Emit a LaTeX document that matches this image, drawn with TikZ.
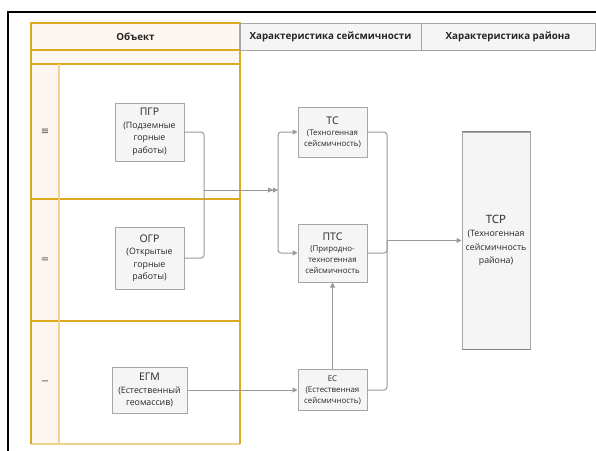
\documentclass[tikz,border=0pt]{standalone}
\usepackage{fontspec}
\setmainfont{Open Sans}
\newfontfamily\symf{DejaVu Sans}
\usetikzlibrary{arrows.meta}
\definecolor{ybord}{HTML}{DCAA1E}
\definecolor{ylight}{HTML}{EFD28C}
\definecolor{yfill}{HTML}{FDF6F0}
\definecolor{gfill}{HTML}{F5F5F5}
\definecolor{gbord}{HTML}{A6A6A6}
\definecolor{conn}{HTML}{9A9A9A}
\definecolor{txt}{HTML}{262626}
\newcommand{\tta}{\fontsize{10.5}{13.5}\selectfont}
\newcommand{\ttb}{\fontsize{8.8}{12.5}\selectfont}
\newcommand{\ttc}{\fontsize{7.9}{11}\selectfont}
\newcommand{\ttd}{\fontsize{8.8}{13.5}\selectfont}
\begin{document}
\begin{tikzpicture}[x=1pt,y=-1pt,
  box/.style={draw=gbord, fill=gfill, line width=1pt, inner sep=1pt, align=center, text=txt},
  hdr/.style={draw=gbord, fill=gfill, line width=1pt, text=txt, font=\bfseries\fontsize{9.8}{11}\selectfont},
  lane/.style={draw=ybord, line width=1.2pt},
  cl/.style={draw=conn, line width=1pt, rounded corners=3pt},
  tip/.style={-{Triangle[length=5pt,width=5pt]}},
  dtip/.style={-{Triangle[length=5pt,width=5pt]Triangle[length=5pt,width=5pt]}}]
\useasboundingbox (0,0) rectangle (596,450);
\fill[white] (0,0) rectangle (596,450);
% outer frame
\draw[line width=2pt] (8,460) -- (8,12) -- (600,12);
% table (object column)
\fill[yfill] (31,23) rectangle (240,64);
\fill[yfill] (31,64) rectangle (59,444);
\draw[lane] (31,50) -- (240,50);
\draw[lane, line width=2pt] (31,64) -- (240,64);
\draw[lane, line width=2pt] (31,199) -- (240,199);
\draw[lane] (31,321) -- (240,321);
\draw[draw=ylight, line width=1.2pt] (59,64) -- (59,444);
\draw[draw=ylight, line width=2pt] (31,444) -- (240,444);
\draw[draw=ybord, line width=1.4pt] (31,444) -- (31,23) -- (240,23) -- (240,444);
\node[text=txt, font=\bfseries\fontsize{9.8}{11}\selectfont] (hobj) at (135.5,36.5) {Объект};
\node[text=txt!80, font=\symf\fontsize{10}{12}\selectfont] (r1) at (45,132) {≡};
\node[text=txt!80, font=\symf\fontsize{10}{12}\selectfont] (r2) at (45,260) {=};
\node[text=txt!80, font=\symf\fontsize{10}{12}\selectfont] (r3) at (45,383) {−};
% gray headers
\node[hdr, minimum width=181pt, minimum height=27pt] (hseis) at (330.5,36.5) {Характеристика сейсмичности};
\node[hdr, minimum width=174pt, minimum height=27pt] (hrai) at (508,36.5) {Характеристика района};
% nodes
\node[box, minimum width=69pt, minimum height=58pt, font=\ttb] (pgr) at (149.5,132) {{\tta ПГР}\\(Подземные\\горные\\работы)};
\node[box, minimum width=69pt, minimum height=62pt, font=\ttb] (ogr) at (149.5,258) {{\tta ОГР}\\(Открытые\\горные\\работы)};
\node[box, minimum width=75pt, minimum height=46pt, font=\ttb] (egm) at (149.5,390) {{\tta ЕГМ}\\(Естественный\\геомассив)};
\node[box, minimum width=69pt, minimum height=50pt, font=\ttc] (tc) at (332.5,132) {{\tta ТС}\\(Техногенная\\сейсмичность)};
\node[box, minimum width=69pt, minimum height=58pt, font=\ttc] (ptc) at (332.5,253) {{\tta ПТС}\\(Природно-\\техногенная\\сейсмичность};
\node[box, minimum width=69pt, minimum height=41pt, font=\ttc] (es) at (332.5,390) {ЕС\\(Естественная\\сейсмичность)};
\node[box, minimum width=68pt, minimum height=217pt, font=\ttd] (tsr) at (496,240.5) {{\fontsize{11.5}{14}\selectfont ТСР}\\(Техногенная\\сейсмичность\\района)};
\draw[draw=gbord!80!black, line width=1.5pt] (tsr.north west) -- (tsr.north east);
\draw[draw=gbord!80!black, line width=1.5pt] (tsr.south west) -- (tsr.south east);
% connectors
\coordinate (m1) at (204,190);
\coordinate (j1) at (278,190);
\coordinate (j2) at (387,240.5);
\draw[cl] (pgr.east) -| (m1);
\draw[cl] (ogr.east) -| (m1);
\draw[cl, dtip] (m1) -- (j1);
\draw[cl, tip] (j1) |- (tc.west);
\draw[cl, tip] (j1) |- (ptc.west);
\draw[cl] (tc.east) -| (j2);
\draw[cl] (ptc.east) -| (j2);
\draw[cl] (es.east) -| (j2);
\draw[cl, tip] (j2) -- (tsr.west);
\draw[cl, tip] (egm.east) -- (es.west);
\draw[cl, tip] (es.north) -- (ptc.south);
\end{tikzpicture}
\end{document}
